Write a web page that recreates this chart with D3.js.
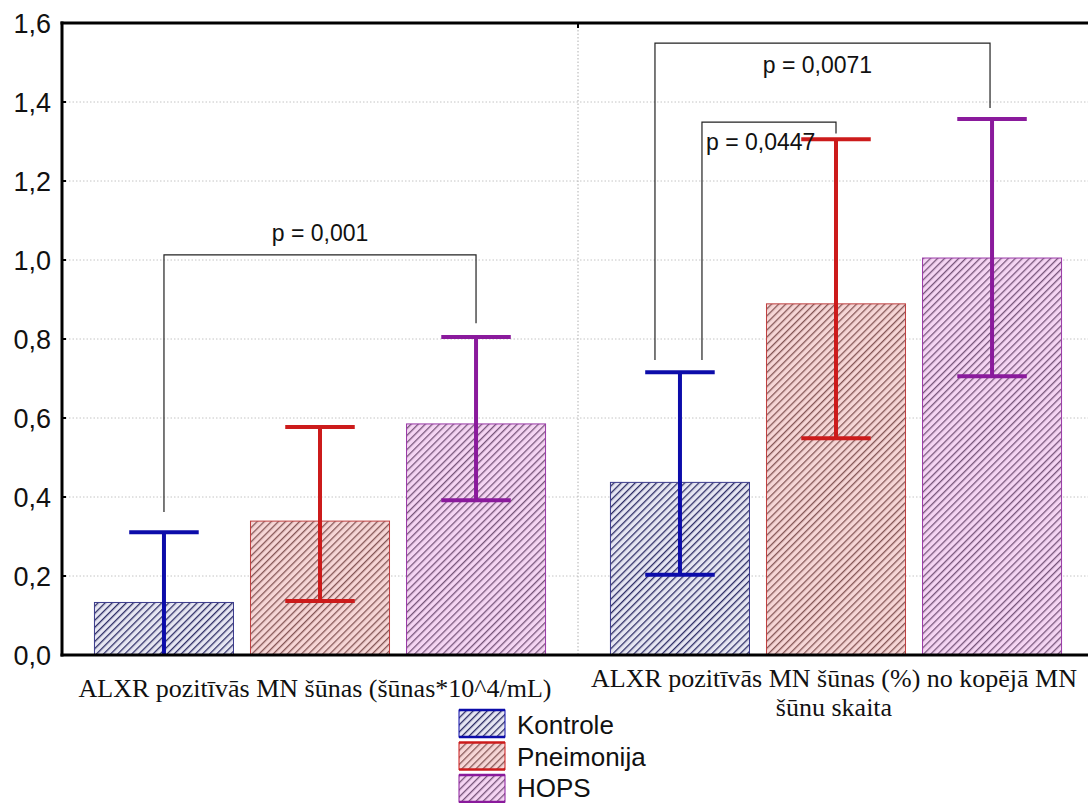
<!DOCTYPE html>
<html>
<head>
<meta charset="utf-8">
<script src="https://cdn.jsdelivr.net/npm/d3@7"></script>
<style>
  html, body { margin: 0; padding: 0; background: #fff; }
  svg { display: block; }
</style>
</head>
<body>
<svg id="chart" width="1088" height="803"></svg>
<script>
// Measurement groups (x axis categories)
const categories = [
  ["ALXR pozitīvās MN šūnas (šūnas*10^4/mL)"],
  ["ALXR pozitīvās MN šūnas (%) no kopējā MN", "šūnu skaita"]
];
const categoryKeys = ["abs", "pct"];
const series = ["Kontrole", "Pneimonija", "HOPS"];

// Means and error bar limits per series, one entry per category
const means = {
  Kontrole:   [0.133, 0.437],
  Pneimonija: [0.339, 0.889],
  HOPS:       [0.585, 1.005]
};
const lowerLimits = {
  Kontrole:   [-0.05, 0.203],
  Pneimonija: [0.137, 0.549],
  HOPS:       [0.392, 0.706]
};
const upperLimits = {
  Kontrole:   [0.311, 0.716],
  Pneimonija: [0.577, 1.306],
  HOPS:       [0.805, 1.357]
};

const yTicks = [0, 0.2, 0.4, 0.6, 0.8, 1.0, 1.2, 1.4, 1.6];

// Significance brackets between series means
const brackets = [
  { cat: "abs", from: "Kontrole", to: "HOPS", top: 1.013, leftEnd: 0.362, rightEnd: 0.84,
    label: "p = 0,001", anchor: "middle", dy: -14, dx: 0 },
  { cat: "pct", from: "Kontrole", to: "HOPS", top: 1.549, leftEnd: 0.747, rightEnd: 1.385,
    label: "p = 0,0071", anchor: "middle", dy: 30, dx: -5, dxFrom: -25, dxTo: -2 },
  { cat: "pct", from: "Kontrole", to: "Pneimonija", top: 1.349, leftEnd: 0.747, rightEnd: 1.32,
    label: "p = 0,0447", anchor: "start", dy: 28, dx: 4, dxFrom: 22, dxTo: 0 }
];

const colors = {
  Kontrole:   { line: "#0c0caa", hatch: "#2e2e66", bg: "#e6e6f2", edge: "#3a3a8c" },
  Pneimonija: { line: "#cc1b1b", hatch: "#855656", bg: "#f6d6d6", edge: "#c04040" },
  HOPS:       { line: "#8a1a9c", hatch: "#77557a", bg: "#f5d5f3", edge: "#9a3aa8" }
};

const svg = d3.select("#chart");
const margin = { left: 62, top: 23, bottom: 655, right: 1094 };

const y = d3.scaleLinear().domain([0, 1.6]).range([margin.bottom, margin.top]);
const x0 = d3.scaleBand().domain(categoryKeys).range([margin.left, margin.right]).padding(0);
const x1 = d3.scaleBand().domain(series).range([0, x0.bandwidth()])
  .paddingInner(0.109).paddingOuter(0.208);

// Hatch patterns
const defs = svg.append("defs");
series.forEach((s, i) => {
  const p = defs.append("pattern")
    .attr("id", "hatch" + i)
    .attr("patternUnits", "userSpaceOnUse")
    .attr("width", 5).attr("height", 5)
    .attr("patternTransform", "rotate(45)");
  p.append("rect").attr("width", 5).attr("height", 5).attr("fill", colors[s].bg);
  p.append("line").attr("x1", 0).attr("y1", 0).attr("x2", 0).attr("y2", 5)
    .attr("stroke", colors[s].hatch).attr("stroke-width", 2.6);
});
const clip = defs.append("clipPath").attr("id", "plotClip");
clip.append("rect").attr("x", margin.left).attr("y", margin.top)
  .attr("width", margin.right - margin.left).attr("height", margin.bottom - margin.top);

// Gridlines
svg.append("g")
  .selectAll("line")
  .data(yTicks.filter(d => d > 0 && d < 1.6))
  .join("line")
  .attr("x1", margin.left).attr("x2", margin.right)
  .attr("y1", d => y(d)).attr("y2", d => y(d))
  .attr("stroke", "#c4c4c4").attr("stroke-width", 1)
  .attr("stroke-dasharray", "1.5,2");

// Vertical separator between categories
svg.append("line")
  .attr("x1", x0("pct")).attr("x2", x0("pct"))
  .attr("y1", margin.top).attr("y2", margin.bottom)
  .attr("stroke", "#b0b0b0").attr("stroke-dasharray", "1.5,2");
svg.append("line")
  .attr("x1", x0("pct")).attr("x2", x0("pct"))
  .attr("y1", margin.top).attr("y2", margin.top + 5)
  .attr("stroke", "#000").attr("stroke-width", 2);

// Bars
const rows = [];
categoryKeys.forEach((c, ci) => series.forEach(s => rows.push({
  cat: c, s, mean: means[s][ci], lo: lowerLimits[s][ci], hi: upperLimits[s][ci]
})));

const plot = svg.append("g").attr("clip-path", "url(#plotClip)");

plot.selectAll("rect.bar")
  .data(rows)
  .join("rect")
  .attr("class", "bar")
  .attr("x", d => x0(d.cat) + x1(d.s))
  .attr("y", d => y(d.mean))
  .attr("width", x1.bandwidth())
  .attr("height", d => y(0) - y(d.mean))
  .attr("fill", d => "url(#hatch" + series.indexOf(d.s) + ")")
  .attr("stroke", d => colors[d.s].edge)
  .attr("stroke-width", 1);

// Error bars
const capHalf = x1.bandwidth() / 4;
const cx = d => x0(d.cat) + x1(d.s) + x1.bandwidth() / 2;
const eb = plot.selectAll("g.err").data(rows).join("g").attr("class", "err")
  .attr("stroke", d => colors[d.s].line).attr("stroke-width", 4);
eb.append("line")
  .attr("x1", cx).attr("x2", cx)
  .attr("y1", d => y(d.lo)).attr("y2", d => y(d.hi));
eb.append("line")
  .attr("x1", d => cx(d) - capHalf).attr("x2", d => cx(d) + capHalf)
  .attr("y1", d => y(d.hi)).attr("y2", d => y(d.hi));
eb.filter(d => d.lo >= 0).append("line")
  .attr("x1", d => cx(d) - capHalf).attr("x2", d => cx(d) + capHalf)
  .attr("y1", d => y(d.lo)).attr("y2", d => y(d.lo));

// Significance brackets
brackets.forEach(b => {
  const xa = x0(b.cat) + x1(b.from) + x1.bandwidth() / 2 + (b.dxFrom || 0);
  const xb = x0(b.cat) + x1(b.to) + x1.bandwidth() / 2 + (b.dxTo || 0);
  svg.append("path")
    .attr("d", `M${xa},${y(b.leftEnd)}V${y(b.top)}H${xb}V${y(b.rightEnd)}`)
    .attr("fill", "none").attr("stroke", "#222").attr("stroke-width", 1.2);
  svg.append("text")
    .attr("x", (b.anchor === "start" ? xa : (xa + xb) / 2) + b.dx)
    .attr("y", y(b.top) + b.dy)
    .attr("text-anchor", b.anchor)
    .attr("font-family", "Liberation Sans, Arial, sans-serif")
    .attr("font-size", 23)
    .attr("fill", "#111")
    .text(b.label);
});

// Axes frame
const yAxis = d3.axisLeft(y).tickValues(yTicks).tickSize(0).tickPadding(11)
  .tickFormat(d => d3.format(".1f")(d).replace(".", ","));
const ya = svg.append("g").attr("transform", `translate(${margin.left},0)`).call(yAxis);
ya.select(".domain").remove();
ya.selectAll("text")
  .attr("font-family", "Liberation Sans, Arial, sans-serif")
  .attr("font-size", 27).attr("fill", "#111").attr("dy", "0.36em");

svg.append("line").attr("x1", margin.left).attr("x2", margin.left)
  .attr("y1", margin.top - 1.5).attr("y2", margin.bottom + 1.5)
  .attr("stroke", "#000").attr("stroke-width", 3);
svg.append("line").attr("x1", margin.left - 1.5).attr("x2", margin.right)
  .attr("y1", margin.top).attr("y2", margin.top)
  .attr("stroke", "#000").attr("stroke-width", 3);
svg.append("line").attr("x1", margin.left - 1.5).attr("x2", margin.right)
  .attr("y1", margin.bottom).attr("y2", margin.bottom)
  .attr("stroke", "#000").attr("stroke-width", 3);
// small inward tick marks
svg.append("g").selectAll("line").data(yTicks.filter(d => d > 0 && d < 1.6)).join("line")
  .attr("x1", margin.left).attr("x2", margin.left + 4)
  .attr("y1", d => y(d)).attr("y2", d => y(d))
  .attr("stroke", "#000").attr("stroke-width", 2);

// Category labels
const catCenters = [x0("abs") + x0.bandwidth() / 2 - 5, x0("pct") + x0.bandwidth() / 2 - 2];
categories.forEach((lines, i) => {
  const t = svg.append("text")
    .attr("text-anchor", "middle")
    .attr("font-family", "Liberation Serif, Times New Roman, serif")
    .attr("font-size", 26)
    .attr("fill", "#111");
  lines.forEach((ln, j) => {
    t.append("tspan").attr("x", catCenters[i])
      .attr("y", (lines.length > 1 ? 687 : 697) + j * 29).text(ln);
  });
});

// Legend
const legendTop = 710, swatchStep = 32.5, textBase = [734, 766, 797];
const legend = svg.append("g").attr("transform", "translate(459,0)");
series.forEach((s, i) => {
  const g = legend.append("g").attr("transform", `translate(0,${legendTop + i * swatchStep})`);
  g.append("rect").attr("width", 46).attr("height", 27)
    .attr("fill", `url(#hatch${i})`)
    .attr("stroke", colors[s].line).attr("stroke-width", 1);
  g.append("line").attr("x1", 0).attr("x2", 46).attr("y1", 0).attr("y2", 0)
    .attr("stroke", colors[s].line).attr("stroke-width", 2.5);
  g.append("line").attr("x1", 0).attr("x2", 46).attr("y1", 27).attr("y2", 27)
    .attr("stroke", colors[s].line).attr("stroke-width", 2.5);
  legend.append("text").attr("x", 58).attr("y", textBase[i])
    .attr("font-family", "Liberation Sans, Arial, sans-serif")
    .attr("font-size", 26).attr("fill", "#111").text(s);
});
</script>
</body>
</html>
